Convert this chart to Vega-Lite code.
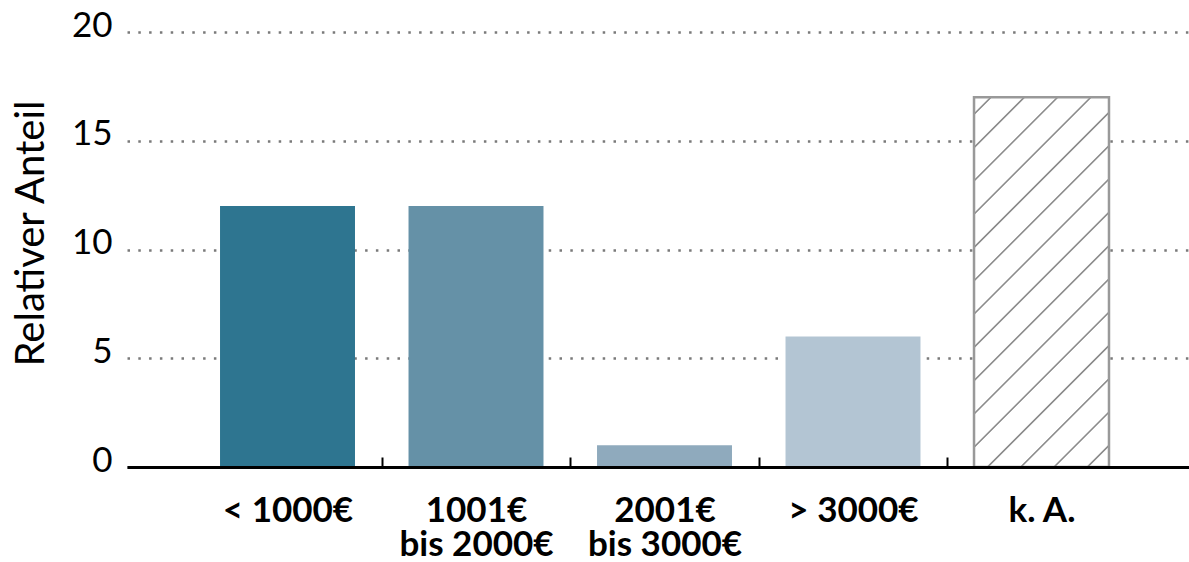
{
  "$schema": "https://vega.github.io/schema/vega-lite/v6.json",
  "width": 1062,
  "height": 435,
  "autosize": "none",
  "padding": {"left": 127, "top": 32, "right": 0, "bottom": 95},
  "background": "white",
  "config": {"view": {"stroke": null}, "font": "Lato"},
  "data": {
    "values": [
      {"Einkommen": "< 1000€", "Anteil": 12},
      {"Einkommen": "1001€ bis 2000€", "Anteil": 12},
      {"Einkommen": "2001€ bis 3000€", "Anteil": 1},
      {"Einkommen": "> 3000€", "Anteil": 6},
      {"Einkommen": "k. A.", "Anteil": 17}
    ]
  },
  "encoding": {
    "x": {
      "field": "Einkommen",
      "type": "nominal",
      "sort": null,
      "scale": {
        "domain": ["< 1000€", "1001€ bis 2000€", "2001€ bis 3000€", "> 3000€", "k. A."],
        "paddingInner": 0.284,
        "paddingOuter": 0.459,
        "align": 0.5376
      },
      "axis": {
        "title": null,
        "labelAngle": 0,
        "labelFont": "Lato",
        "labelFontSize": 35,
        "labelFontWeight": "bold",
        "labelColor": "black",
        "labelBaseline": "top",
        "labelAlign": "center",
        "labelPadding": 36,
        "labelLineHeight": 34,
        "labelLimit": 400,
        "labelExpr": "indexof(datum.label, ' bis ') > 0 ? [substring(datum.label, 0, indexof(datum.label, ' bis ')), substring(datum.label, indexof(datum.label, ' bis ') + 1)] : datum.label",
        "tickSize": -10,
        "tickWidth": 2,
        "tickColor": {"condition": {"test": "datum.value === '< 1000€'", "value": "transparent"}, "value": "black"},
        "tickOffset": -94.25,
        "labelOffset": 94.25,
        "domainColor": "black",
        "domainWidth": 3,
        "zindex": 1
      }
    },
    "y": {
      "field": "Anteil",
      "type": "quantitative",
      "scale": {"domain": [0, 20], "nice": false},
      "axis": {
        "title": "Relativer Anteil",
        "values": [0, 5, 10, 15, 20],
        "domain": false,
        "ticks": false,
        "grid": true,
        "gridColor": "#7a7a7a",
        "gridDash": [2.5, 8.3],
        "gridWidth": 2.6,
        "labelFont": "Lato",
        "labelFontSize": 35,
        "labelColor": "black",
        "labelPadding": 15,
        "labelOffset": -7,
        "titleFont": "Lato",
        "titleFontSize": 40,
        "titleFontWeight": "normal",
        "titleColor": "black",
        "titlePadding": 20,
        "titleY": 201
      }
    }
  },
  "layer": [
    {
      "transform": [{"filter": "datum.Einkommen !== 'k. A.'"}],
      "mark": {"type": "bar"},
      "encoding": {
        "color": {
          "field": "Einkommen",
          "type": "nominal",
          "scale": {
            "domain": ["< 1000€", "1001€ bis 2000€", "2001€ bis 3000€", "> 3000€"],
            "range": ["#2E7590", "#6591A7", "#8FAABD", "#B3C5D3"]
          },
          "legend": null
        }
      }
    },
    {
      "transform": [{"filter": "datum.Einkommen === 'k. A.'"}],
      "mark": {
        "type": "bar",
        "stroke": "#999999",
        "strokeWidth": 2.5,
        "fill": {
          "gradient": "linear",
          "x1": 0, "y1": 0, "x2": 0.4398, "y2": 1.2045,
          "stops": [
            {"offset": 0, "color": "#ffffff"},
            {"offset": 0.0302, "color": "#ffffff"}, {"offset": 0.0327, "color": "#8c8c8c"}, {"offset": 0.0347, "color": "#8c8c8c"}, {"offset": 0.0372, "color": "#ffffff"},
            {"offset": 0.0962, "color": "#ffffff"}, {"offset": 0.0987, "color": "#8c8c8c"}, {"offset": 0.1007, "color": "#8c8c8c"}, {"offset": 0.1032, "color": "#ffffff"},
            {"offset": 0.1621, "color": "#ffffff"}, {"offset": 0.1646, "color": "#8c8c8c"}, {"offset": 0.1666, "color": "#8c8c8c"}, {"offset": 0.1691, "color": "#ffffff"},
            {"offset": 0.2281, "color": "#ffffff"}, {"offset": 0.2306, "color": "#8c8c8c"}, {"offset": 0.2326, "color": "#8c8c8c"}, {"offset": 0.2351, "color": "#ffffff"},
            {"offset": 0.2941, "color": "#ffffff"}, {"offset": 0.2966, "color": "#8c8c8c"}, {"offset": 0.2986, "color": "#8c8c8c"}, {"offset": 0.3011, "color": "#ffffff"},
            {"offset": 0.3600, "color": "#ffffff"}, {"offset": 0.3625, "color": "#8c8c8c"}, {"offset": 0.3645, "color": "#8c8c8c"}, {"offset": 0.3670, "color": "#ffffff"},
            {"offset": 0.4260, "color": "#ffffff"}, {"offset": 0.4285, "color": "#8c8c8c"}, {"offset": 0.4305, "color": "#8c8c8c"}, {"offset": 0.4330, "color": "#ffffff"},
            {"offset": 0.4920, "color": "#ffffff"}, {"offset": 0.4945, "color": "#8c8c8c"}, {"offset": 0.4965, "color": "#8c8c8c"}, {"offset": 0.4990, "color": "#ffffff"},
            {"offset": 0.5580, "color": "#ffffff"}, {"offset": 0.5605, "color": "#8c8c8c"}, {"offset": 0.5625, "color": "#8c8c8c"}, {"offset": 0.5650, "color": "#ffffff"},
            {"offset": 0.6239, "color": "#ffffff"}, {"offset": 0.6264, "color": "#8c8c8c"}, {"offset": 0.6284, "color": "#8c8c8c"}, {"offset": 0.6309, "color": "#ffffff"},
            {"offset": 0.6899, "color": "#ffffff"}, {"offset": 0.6924, "color": "#8c8c8c"}, {"offset": 0.6944, "color": "#8c8c8c"}, {"offset": 0.6969, "color": "#ffffff"},
            {"offset": 0.7559, "color": "#ffffff"}, {"offset": 0.7584, "color": "#8c8c8c"}, {"offset": 0.7604, "color": "#8c8c8c"}, {"offset": 0.7629, "color": "#ffffff"},
            {"offset": 0.8218, "color": "#ffffff"}, {"offset": 0.8243, "color": "#8c8c8c"}, {"offset": 0.8263, "color": "#8c8c8c"}, {"offset": 0.8288, "color": "#ffffff"},
            {"offset": 0.8878, "color": "#ffffff"}, {"offset": 0.8903, "color": "#8c8c8c"}, {"offset": 0.8923, "color": "#8c8c8c"}, {"offset": 0.8948, "color": "#ffffff"},
            {"offset": 0.9538, "color": "#ffffff"}, {"offset": 0.9563, "color": "#8c8c8c"}, {"offset": 0.9583, "color": "#8c8c8c"}, {"offset": 0.9608, "color": "#ffffff"},
            {"offset": 1, "color": "#ffffff"}
          ]
        }
      }
    }
  ]
}
